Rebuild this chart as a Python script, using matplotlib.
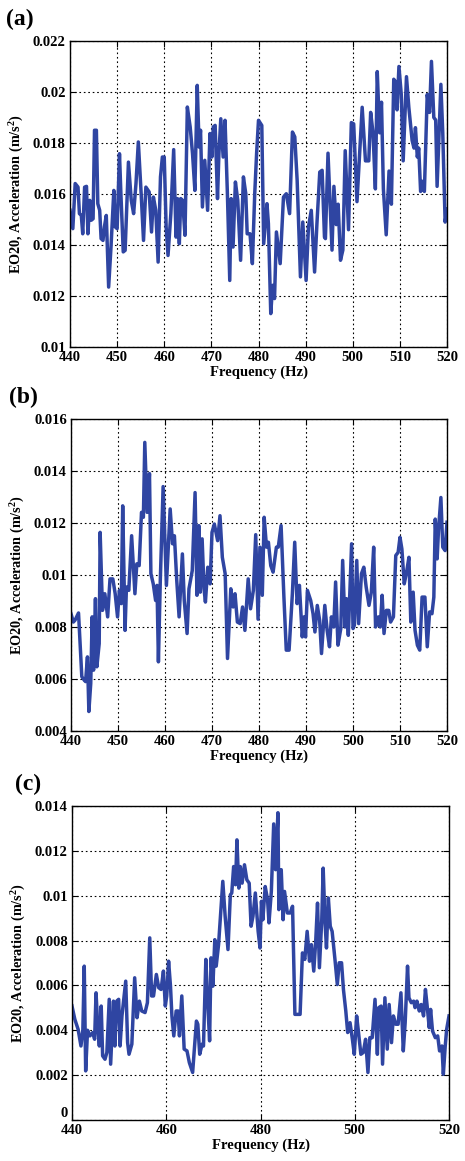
import matplotlib
matplotlib.use('Agg')
import matplotlib.pyplot as plt
import numpy as np
from matplotlib.ticker import FuncFormatter

plt.rcParams['font.family'] = ['Liberation Serif', 'DejaVu Serif']
plt.rcParams['font.weight'] = 'bold'
plt.rcParams['mathtext.fontset'] = 'custom'
plt.rcParams['mathtext.rm'] = 'Liberation Serif:bold'
plt.rcParams['mathtext.it'] = 'Liberation Serif:bold'
plt.rcParams['mathtext.bf'] = 'Liberation Serif:bold'

# panel (a): frequency (Hz) and EO20 acceleration (x 1e-3 m/s^2)
freq_a = [440.0, 440.6, 441.1, 441.7, 442.0, 442.4, 442.7, 443.1, 443.5, 443.8,
          444.2, 444.5, 444.9, 445.2, 445.6, 445.9, 446.3, 446.6, 447.0, 447.3,
          447.7, 448.2, 448.7, 449.3, 449.6, 450.0, 450.5, 450.8, 451.3, 451.7,
          452.4, 453.0, 453.5, 454.0, 454.5, 455.1, 455.6, 456.1, 456.8, 457.3,
          457.7, 458.2, 458.7, 459.2, 459.6, 460.0, 460.4, 460.8, 461.4, 462.0,
          462.5, 462.8, 463.2, 463.5, 463.9, 464.4, 464.9, 465.5, 466.0, 466.5,
          467.0, 467.4, 467.7, 468.1, 468.6, 469.2, 469.7, 470.1, 470.4, 470.8,
          471.3, 471.6, 472.0, 472.5, 472.9, 473.4, 473.9, 474.2, 474.6, 475.1,
          475.6, 476.2, 476.8, 477.3, 477.6, 478.2, 478.7, 479.2, 479.6, 480.0,
          480.7, 481.1, 481.8, 482.1, 482.6, 483.0, 483.4, 483.8, 484.6, 485.3,
          485.9, 486.6, 487.2, 487.7, 488.2, 488.9, 489.4, 490.1, 490.6, 491.2,
          491.9, 492.4, 493.0, 493.5, 494.0, 494.2, 494.75, 495.6, 496.0, 496.5,
          496.9, 497.4, 497.9, 498.4, 499.1, 499.7, 500.2, 500.9, 502.0, 502.7,
          503.4, 503.8, 504.3, 504.8, 505.2, 505.7, 506.1, 506.5, 507.1, 507.7,
          508.2, 508.7, 509.1, 509.4, 509.8, 510.3, 510.7, 511.4, 511.9, 512.6,
          513.0, 513.3, 513.7, 514.0, 514.4, 514.8, 515.2, 515.8, 516.3, 516.7,
          517.2, 517.6, 517.9, 518.7, 519.1, 519.6, 520.0]
acc_a = [15.36, 14.64, 16.41, 16.27, 15.23, 15.16, 14.44, 16.27, 16.30, 14.44,
         15.75, 14.97, 15.03, 18.50, 18.50, 15.62, 15.36, 14.25, 14.18, 14.71,
         15.16, 12.35, 13.92, 16.14, 14.71, 14.64, 17.58, 16.01, 13.73, 13.79,
         17.25, 15.75, 15.23, 16.41, 18.04, 16.01, 14.18, 16.27, 16.08, 14.51,
         15.88, 15.36, 13.33, 16.67, 17.45, 17.45, 14.71, 13.59, 15.23, 17.74,
         14.31, 15.82, 14.05, 15.82, 15.75, 14.38, 19.41, 18.63, 17.58, 16.14,
         20.26, 17.84, 18.50, 15.49, 17.32, 15.36, 18.37, 17.45, 18.63, 18.69,
         15.82, 17.58, 18.95, 17.45, 18.89, 16.01, 12.61, 15.82, 13.92, 16.47,
         15.75, 13.40, 16.67, 16.01, 14.44, 14.44, 13.27, 16.01, 17.60, 18.89,
         18.69, 14.05, 15.62, 14.84, 11.31, 12.42, 11.90, 14.51, 13.27, 15.88,
         16.01, 15.23, 18.43, 18.24, 16.54, 12.75, 14.90, 12.61, 14.71, 15.36,
         12.94, 14.84, 16.86, 16.93, 14.31, 14.25, 17.60, 13.80, 16.30, 14.80,
         15.60, 13.40, 13.80, 17.70, 14.60, 18.80, 18.75, 15.70, 19.40, 17.30,
         17.30, 19.20, 18.40, 16.20, 20.80, 18.40, 19.60, 16.20, 14.40, 16.90,
         15.60, 20.50, 20.40, 19.30, 21.00, 19.90, 17.30, 20.60, 19.40, 18.10,
         17.80, 18.60, 17.45, 17.80, 16.10, 16.50, 16.10, 19.90, 19.20, 21.20,
         19.00, 18.90, 16.30, 20.30, 18.40, 14.90, 15.40]

# panel (b)
freq_b = [440.0, 440.5, 440.85, 441.6, 442.3, 442.8, 443.1, 443.5, 443.8, 444.2,
          444.5, 444.8, 445.2, 445.5, 446.0, 446.2, 446.7, 447.2, 447.8, 448.3,
          448.9, 449.4, 449.9, 450.3, 450.7, 451.0, 451.5, 451.8, 452.3, 452.9,
          453.6, 454.0, 454.5, 455.0, 455.4, 455.7, 456.2, 456.7, 457.0, 457.5,
          458.0, 458.3, 458.6, 459.0, 459.6, 460.3, 461.1, 461.6, 462.0, 462.5,
          463.0, 463.7, 464.1, 464.7, 465.1, 465.8, 466.4, 466.8, 467.2, 467.5,
          467.9, 468.3, 468.6, 469.1, 469.6, 470.0, 470.5, 471.2, 471.7, 472.2,
          472.8, 473.3, 474.0, 474.5, 474.9, 475.4, 476.0, 476.5, 477.0, 477.7,
          478.2, 478.8, 479.3, 479.8, 480.2, 480.7, 481.1, 481.6, 482.0, 482.5,
          483.0, 483.7, 484.1, 484.7, 485.3, 485.8, 486.4, 487.1, 487.6, 488.1,
          488.6, 489.2, 489.6, 489.9, 490.3, 491.0, 491.5, 491.9, 492.4, 492.9,
          493.3, 494.0, 494.5, 495.0, 495.4, 495.9, 496.3, 496.8, 497.4, 497.8,
          498.3, 498.6, 499.0, 499.7, 500.0, 500.3, 500.8, 501.2, 501.8, 502.3,
          502.8, 503.4, 503.9, 504.4, 504.8, 505.4, 505.8, 506.2, 506.6, 507.1,
          507.6, 508.0, 508.6, 509.1, 509.6, 510.0, 510.4, 510.9, 511.4, 511.9,
          512.3, 512.8, 513.2, 513.7, 514.2, 514.7, 515.3, 515.8, 516.3, 516.8,
          517.2, 517.5, 517.9, 518.2, 518.7, 519.1, 519.6, 520.0]
acc_b = [8.51, 8.19, 8.26, 8.54, 6.09, 5.96, 5.90, 6.85, 4.75, 5.83,
         8.39, 6.34, 9.09, 6.47, 7.36, 11.64, 8.64, 9.28, 8.39, 9.85,
         9.85, 9.28, 8.39, 9.41, 8.90, 12.66, 7.87, 9.54, 9.41, 11.51,
         9.28, 10.43, 10.36, 12.41, 12.22, 15.10, 12.41, 13.90, 10.05, 9.66,
         9.02, 9.60, 6.66, 9.79, 13.40, 9.60, 12.54, 11.20, 11.51, 9.79,
         8.39, 10.81, 9.02, 7.75, 9.47, 10.17, 13.17, 9.22, 11.90, 9.34,
         11.39, 9.47, 8.96, 10.30, 9.66, 11.64, 11.96, 11.32, 12.28, 10.68,
         10.05, 6.79, 9.47, 8.77, 9.28, 8.19, 8.13, 8.77, 7.87, 9.85,
         8.70, 9.41, 11.55, 8.30, 11.07, 9.22, 12.22, 11.07, 11.26, 10.36,
         10.11, 11.07, 11.07, 11.90, 9.15, 7.11, 7.11, 9.28, 11.26, 8.90,
         9.60, 7.62, 8.39, 7.62, 9.41, 9.02, 8.51, 7.81, 8.83, 8.26,
         6.98, 8.83, 7.87, 7.24, 8.39, 8.00, 9.73, 7.30, 7.94, 10.56,
         8.00, 9.09, 7.68, 11.20, 7.94, 8.07, 10.56, 8.13, 10.05, 10.30,
         9.54, 8.83, 9.34, 11.07, 8.00, 8.39, 8.00, 9.22, 7.75, 8.64,
         8.64, 8.19, 8.39, 10.75, 10.87, 11.45, 11.00, 9.66, 10.11, 10.68,
         8.19, 9.34, 7.87, 7.30, 7.11, 9.15, 9.15, 7.24, 8.58, 8.51,
         9.15, 12.15, 10.62, 11.77, 12.98, 11.07, 10.94, 12.03]

# panel (c)
freq_c = [440.0, 440.6, 441.3, 441.9, 442.3, 442.6, 442.9, 443.3, 443.8, 444.4,
          444.8, 445.1, 445.5, 445.8, 446.2, 446.5, 447.0, 447.4, 447.9, 448.2,
          448.8, 449.1, 449.5, 449.9, 450.2, 450.6, 450.9, 451.4, 451.8, 452.1,
          452.7, 453.3, 453.8, 454.3, 454.8, 455.5, 456.0, 456.5, 456.9, 457.3,
          457.9, 458.4, 458.9, 459.4, 459.8, 460.1, 460.5, 460.9, 461.2, 461.6,
          462.1, 462.5, 462.8, 463.3, 463.8, 464.4, 464.9, 465.6, 466.4, 466.7,
          467.1, 467.6, 467.9, 468.4, 468.8, 469.2, 469.5, 469.9, 470.3, 470.6,
          471.1, 471.5, 472.0, 472.5, 473.1, 473.6, 473.9, 474.3, 474.7, 475.0,
          475.4, 475.7, 476.1, 476.6, 477.1, 477.6, 478.0, 478.4, 478.9, 479.5,
          479.9, 480.2, 480.5, 481.0, 481.5, 481.8, 482.3, 482.8, 483.2, 483.7,
          483.9, 484.4, 484.8, 485.1, 485.7, 486.3, 486.8, 487.3, 487.8, 488.4,
          488.9, 489.4, 489.9, 490.4, 490.8, 491.3, 491.7, 492.1, 492.5, 493.0,
          493.3, 493.7, 494.0, 494.4, 494.8, 495.2, 495.8, 496.3, 496.7, 497.2,
          497.6, 498.1, 498.5, 499.0, 499.5, 499.9, 500.4, 500.8, 501.3, 501.8,
          502.3, 502.8, 503.2, 503.7, 504.3, 504.8, 505.1, 505.6, 505.9, 506.4,
          506.9, 507.3, 507.8, 508.2, 508.7, 509.2, 509.8, 510.3, 510.7, 511.2,
          511.5, 512.0, 512.5, 512.8, 513.2, 513.7, 514.1, 514.6, 515.0, 515.4,
          515.8, 516.1, 516.5, 517.1, 517.6, 518.0, 518.5, 518.8, 519.2, 519.5,
          520.0]
acc_c = [5.08, 4.49, 4.04, 3.30, 4.00, 6.86, 2.19, 4.00, 3.75, 3.90,
         3.60, 5.67, 4.04, 3.30, 5.08, 2.86, 2.71, 3.01, 5.38, 2.49,
         5.30, 3.30, 5.30, 5.38, 3.30, 4.64, 5.23, 6.19, 3.45, 2.93,
         3.38, 6.34, 4.56, 5.30, 4.86, 4.79, 5.23, 8.12, 5.53, 5.53,
         6.49, 5.90, 5.82, 6.64, 5.08, 5.53, 7.08, 5.97, 4.64, 3.75,
         4.86, 4.86, 3.75, 5.53, 3.16, 3.08, 2.56, 2.12, 4.41, 4.27,
         2.93, 3.38, 3.30, 7.16, 5.23, 3.53, 7.23, 5.97, 8.04, 6.86,
         7.82, 9.08, 10.64, 9.08, 7.60, 10.04, 10.12, 11.30, 10.49, 12.49,
         10.34, 11.30, 10.56, 11.38, 10.71, 10.56, 8.64, 9.08, 10.12, 8.41,
         7.67, 9.75, 8.93, 10.41, 9.82, 8.79, 10.19, 13.20, 11.16, 13.70,
         9.38, 11.16, 8.93, 10.19, 9.23, 9.23, 9.53, 4.71, 4.71, 4.71,
         7.45, 7.16, 8.41, 7.08, 7.82, 6.64, 7.90, 9.67, 6.79, 8.93,
         11.23, 8.79, 7.67, 9.90, 8.64, 8.41, 7.16, 6.04, 7.01, 7.01,
         5.82, 4.86, 3.90, 4.34, 3.60, 2.93, 4.64, 3.90, 2.93, 3.01,
         3.60, 2.12, 3.67, 3.67, 5.38, 2.93, 5.01, 5.08, 2.49, 5.45,
         3.16, 5.15, 3.45, 4.64, 4.27, 4.27, 5.67, 3.08, 4.34, 6.86,
         5.45, 5.23, 5.30, 5.01, 5.30, 4.86, 5.15, 4.64, 5.82, 5.01,
         4.12, 4.93, 3.97, 3.67, 3.75, 3.08, 3.30, 2.04, 3.30, 4.04,
         4.64]

labels = ['(a)', '(b)', '(c)']
ylims = [(0.010, 0.022), (0.004, 0.016), (0.0, 0.014)]
yticks = [np.arange(0.010, 0.0221, 0.002), np.arange(0.004, 0.0161, 0.002),
          np.arange(0.0, 0.0141, 0.002)]
xticks = [np.arange(440, 521, 10), np.arange(440, 521, 10), np.arange(440, 521, 20)]

fig = plt.figure(figsize=(4.65, 11.61), dpi=100)
W, H = 465.0, 1161.0
# axes boxes in pixels: left, top, right, bottom
boxes = [(70, 41, 447, 347), (71, 419, 447, 731), (72, 806, 449, 1120)]
label_pos = [(6, 19), (9, 397), (15, 784)]

series = [(freq_a, acc_a), (freq_b, acc_b), (freq_c, acc_c)]

for i in range(3):
    l, t, r, b = boxes[i]
    ax = fig.add_axes([l / W, 1 - b / H, (r - l) / W, (b - t) / H])
    f, v = series[i]
    ax.plot(f, np.array(v) / 1000, color='#2f45a2', lw=2.5)
    ax.set_xlim(440, 520)
    ax.set_ylim(*ylims[i])
    ax.set_xticks(xticks[i])
    ax.set_yticks(yticks[i])
    ax.yaxis.set_major_formatter(FuncFormatter(lambda y, p: '%g' % round(y, 4)))
    ax.grid(True, color='k', linestyle=(0, (1.5, 2.5)), linewidth=0.8)
    ax.tick_params(direction='in', length=4, width=0.8, top=True, right=True,
                   labelsize=10.5, pad=3)
    for s in ax.spines.values():
        s.set_linewidth(1.0)
    ax.set_xlabel('Frequency (Hz)', fontsize=10.5, fontweight='bold', labelpad=1)
    ax.set_ylabel('EO20, Acceleration (m/s$^2$)', fontsize=10.3, fontweight='bold', labelpad=5)
    if ylims[i][0] == 0.0:
        # the zero label sits just above the corner, as in the original
        ax.get_yticklabels()[0].set_va('bottom')
    fig.text(label_pos[i][0] / W, 1 - label_pos[i][1] / H, labels[i],
             fontsize=17, fontweight='bold', ha='left', va='center')

plt.savefig('out.png', dpi=100)
